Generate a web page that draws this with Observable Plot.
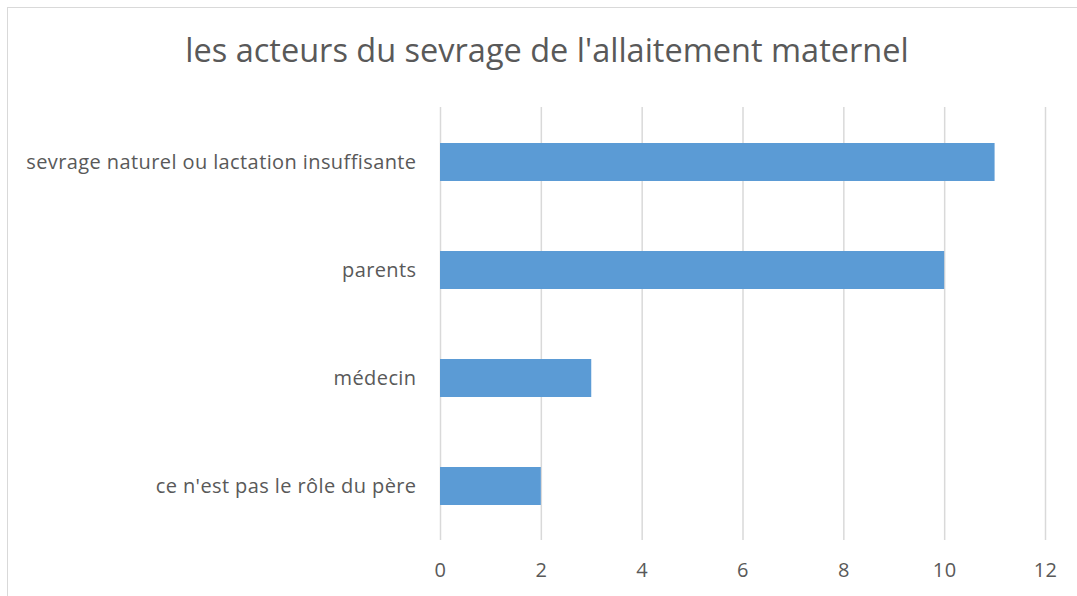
<!DOCTYPE html>
<html>
<head>
<meta charset="utf-8">
<script src="https://cdn.jsdelivr.net/npm/d3@7"></script>
<script src="https://cdn.jsdelivr.net/npm/@observablehq/plot@0.6"></script>
<style>
  html, body { margin: 0; padding: 0; background: #fff; }
  body { width: 1077px; height: 596px; overflow: hidden; position: relative; font-family: "Open Sans", sans-serif; }
  #frame { position: absolute; left: 7px; top: 7px; width: 1100px; height: 620px; border: 1.5px solid #d9d9d9; box-sizing: border-box; }
  #title { position: absolute; left: 0; top: 29px; width: 1094px; text-align: center; font-size: 32.5px; line-height: 1.3; color: #595959; font-family: "Open Sans", sans-serif; }
  #chart { position: absolute; left: 0; top: 0; }
</style>
</head>
<body>
<div id="frame"></div>
<div id="title">les acteurs du sevrage de l'allaitement maternel</div>
<div id="chart"></div>
<script>
const categories = [
  "sevrage naturel ou lactation insuffisante",
  "parents",
  "médecin",
  "ce n'est pas le rôle du père"
];
const values = [11, 10, 3, 2];
const xTicks = [0, 2, 4, 6, 8, 10, 12];

const data = categories.map((c, i) => ({category: c, value: values[i]}));

const chart = Plot.plot({
  width: 1077,
  height: 596,
  marginLeft: 440,
  marginRight: 32,
  marginTop: 107,
  marginBottom: 56,
  style: {fontFamily: "Open Sans, sans-serif", fontSize: "20px", color: "#595959", background: "transparent", letterSpacing: "0.4px"},
  x: {domain: [0, 12], ticks: xTicks, label: null},
  y: {domain: categories, paddingInner: 0.65, paddingOuter: 0.325, label: null},
  marks: [
    Plot.ruleX(xTicks, {stroke: "#d9d9d9", strokeWidth: 1.5}),
    Plot.barX(data, {x: "value", y: "category", fill: "#5b9bd5"}),
    Plot.axisX({ticks: xTicks, tickSize: 0, tickPadding: 22, fontSize: 20, fill: "#595959", label: null}),
    Plot.axisY({tickSize: 0, tickPadding: 24, fontSize: 20, fill: "#595959", label: null})
  ]
});
document.getElementById("chart").appendChild(chart);
</script>
</body>
</html>
